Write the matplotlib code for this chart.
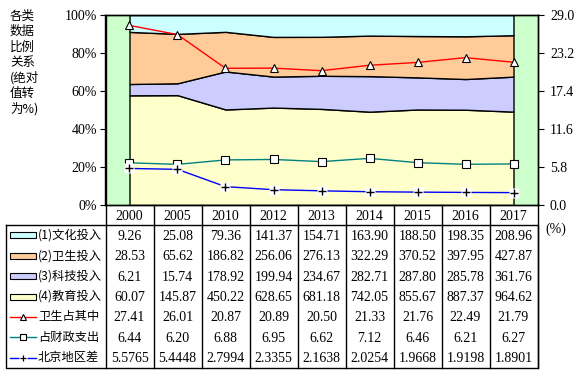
import matplotlib
matplotlib.use("Agg")
import matplotlib.pyplot as plt
import numpy as np

# 数据
years = ["2000", "2005", "2010", "2012", "2013", "2014", "2015", "2016", "2017"]
wenhua = [9.26, 25.08, 79.36, 141.37, 154.71, 163.90, 188.50, 198.35, 208.96]
weisheng = [28.53, 65.62, 186.82, 256.06, 276.13, 322.29, 370.52, 397.95, 427.87]
keji = [6.21, 15.74, 178.92, 199.94, 234.67, 282.71, 287.80, 285.78, 361.76]
jiaoyu = [60.07, 145.87, 450.22, 628.65, 681.18, 742.05, 855.67, 887.37, 964.62]
ws_share = [27.41, 26.01, 20.87, 20.89, 20.50, 21.33, 21.76, 22.49, 21.79]
caizheng = [6.44, 6.20, 6.88, 6.95, 6.62, 7.12, 6.46, 6.21, 6.27]
beijing = [5.5765, 5.4448, 2.7994, 2.3355, 2.1638, 2.0254, 1.9668, 1.9198, 1.8901]

row_labels = ["(1)文化投入", "(2)卫生投入", "(3)科技投入", "(4)教育投入",
              "卫生占其中", "占财政支出", "北京地区差"]

C_WH, C_WS, C_KJ, C_JY = "#ccffff", "#ffcc99", "#ccccff", "#ffffcc"
CJK = ["Noto Sans CJK SC", "DejaVu Sans"]
SERIF = "Liberation Serif"
NUM_FS = 10

W, H = 577, 376
fig = plt.figure(figsize=(W / 100, H / 100), dpi=100)

# 版面 (像素)
AX_L, COL_W, AX_T, AX_B = 105.5, 48, 15, 205
n = len(years)
AX_R = AX_L + COL_W * n

ax = fig.add_axes([AX_L / W, 1 - AX_B / H, (AX_R - AX_L) / W, (AX_B - AX_T) / H])
ax.set_facecolor("#ccffcc")

x = np.arange(n)
tot = np.array(wenhua) + np.array(weisheng) + np.array(keji) + np.array(jiaoyu)
parts = [np.array(jiaoyu) / tot, np.array(keji) / tot,
         np.array(weisheng) / tot, np.array(wenhua) / tot]
ax.stackplot(x, *parts, colors=[C_JY, C_KJ, C_WS, C_WH],
             edgecolor="black", linewidth=1)
ax.set_xlim(-0.5, n - 0.5)
ax.set_ylim(0, 1)
ax.set_yticks(np.arange(0, 1.01, 0.2))
ax.set_yticklabels([f"{int(round(v*100))}%" for v in np.arange(0, 1.01, 0.2)],
                   fontfamily=SERIF, fontsize=NUM_FS)
ax.set_xticks([])
ax.tick_params(axis="y", direction="out", length=4, pad=2)

ax2 = ax.twinx()
ax2.set_ylim(0, 29)
ax2.set_yticks(np.arange(0, 29.01, 5.8))
ax2.set_yticklabels([f"{v:.1f}" for v in np.arange(0, 29.01, 5.8)],
                    fontfamily=SERIF, fontsize=NUM_FS)
ax2.tick_params(axis="y", direction="out", length=4, pad=5)
ax2.plot(x, ws_share, color="red", lw=1, marker="^", ms=6,
         mfc="white", mec="black", mew=0.8)
ax2.plot(x, caizheng, color="#008080", lw=1, marker="s", ms=5.5,
         mfc="white", mec="black", mew=0.8)
ax2.plot(x, beijing, color="blue", lw=1)
ax2.plot(x, beijing, ls="none", marker="s", ms=7, mfc="white", mec="none")
ax2.plot(x, beijing, ls="none", marker="+", ms=6, mec="black", mew=1)
for a in (ax, ax2):
    for s in a.spines.values():
        s.set_linewidth(1)

# 数据表 (像素坐标覆盖层)
ov = fig.add_axes([0, 0, 1, 1], facecolor="none")
ov.set_xlim(0, W)
ov.set_ylim(H, 0)
ov.axis("off")

T_TOP, T_BOT, T_LEFT = 225, 368, 6
row_h = (T_BOT - T_TOP) / len(row_labels)
for k in range(n + 1):
    xx = AX_L + COL_W * k
    ov.plot([xx, xx], [AX_B, T_BOT], color="black", lw=1)
ov.plot([T_LEFT, AX_R, AX_R, T_LEFT, T_LEFT],
        [T_TOP, T_TOP, T_BOT, T_BOT, T_TOP], color="black", lw=1)

for k, yr in enumerate(years):
    ov.text(AX_L + COL_W * (k + 0.5), (AX_B + T_TOP) / 2 + 1, yr,
            ha="center", va="center", fontfamily=SERIF, fontsize=NUM_FS)

rows = [wenhua, weisheng, keji, jiaoyu, ws_share, caizheng, beijing]
fmts = ["{:.2f}"] * 6 + ["{:.4f}"]
for r, (lab, vals, fmt) in enumerate(zip(row_labels, rows, fmts)):
    yc = T_TOP + row_h * (r + 0.5)
    if r < 4:
        col = [C_WH, C_WS, C_KJ, C_JY][r]
        ov.add_patch(plt.Rectangle((10, yc - 3), 26, 6, facecolor=col,
                                   edgecolor="black", lw=0.8))
    else:
        lc = ["red", "#008080", "blue"][r - 4]
        ov.plot([10, 36], [yc, yc], color=lc, lw=1)
        if r == 4:
            ov.plot(23, yc, marker="^", ms=5, mfc="white", mec="black", mew=0.8)
        elif r == 5:
            ov.plot(23, yc, marker="s", ms=4.5, mfc="white", mec="black", mew=0.8)
        else:
            ov.plot(23, yc, marker="s", ms=6, mfc="white", mec="none")
            ov.plot(23, yc, marker="+", ms=5, mec="black", mew=0.9)
    ov.text(38, yc, lab, ha="left", va="center", family=CJK, fontsize=8.8)
    for k, v in enumerate(vals):
        ov.text(AX_L + COL_W * (k + 0.5), yc + 1, fmt.format(v),
                ha="center", va="center", fontfamily=SERIF, fontsize=NUM_FS)

ov.text(545, 229, "(%)", ha="left", va="center", fontfamily=SERIF, fontsize=NUM_FS)
ov.text(10, 10, "各类\n数据\n比例\n关系\n(绝对\n值转\n为%)", ha="left", va="top",
        family=CJK, fontsize=9, linespacing=1.22)

fig.savefig("out.png", dpi=100)
